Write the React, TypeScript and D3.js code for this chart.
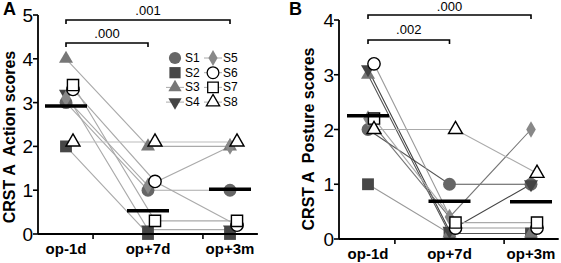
import React from "react";
import * as d3 from "d3";

// ---------- data ----------
const categories = ["op-1d", "op+7d", "op+3m"];
const seriesNames = ["S1", "S2", "S3", "S4", "S5", "S6", "S7", "S8"];

// Panel A: CRST A Action scores (per subject, op-1d / op+7d / op+3m)
const actionS1 = [3, 1, 1];
const actionS2 = [2, 0, 0];
const actionS3 = [4, 2, 2];
const actionS4 = [3.2, 0.1, 0.1];
const actionS5 = [3.1, 1.1, 2.0];
const actionS6 = [3.3, 1.2, 0.2];
const actionS7 = [3.4, 0.3, 0.3];
const actionS8 = [2.1, 2.1, 2.1];
const actionMeans = [2.92, 0.53, 1.02];
const actionTicks = [0, 1, 2, 3, 4, 5];
const actionBrackets = [
  { from: 0, to: 1, label: ".000" },
  { from: 0, to: 2, label: ".001" },
];

// Panel B: CRST A Posture scores
const postureS1 = [2, 1, 1];
const postureS2 = [1, 0.1, 0.1];
const postureS3 = [3, 0.1, 0.1];
const postureS4 = [3.1, 0.15, 1.0];
const postureS5 = [2.2, 0.4, 2.0];
const postureS6 = [3.2, 0.2, 0.2];
const postureS7 = [2.2, 0.3, 0.3];
const postureS8 = [2.0, 2.0, 1.2];
const postureMeans = [2.25, 0.69, 0.68];
const postureTicks = [0, 1, 2, 3, 4];
const postureBrackets = [
  { from: 0, to: 1, label: ".002" },
  { from: 0, to: 2, label: ".000" },
];

const actionSeries = [actionS1, actionS2, actionS3, actionS4, actionS5, actionS6, actionS7, actionS8];
const postureSeries = [postureS1, postureS2, postureS3, postureS4, postureS5, postureS6, postureS7, postureS8];

// ---------- styles ----------
const FONT = "'Liberation Sans', Arial, Helvetica, sans-serif";
type MarkerStyle = { type: any; rotate: number; size: number; fill: string; stroke: string; open: boolean };
const markerStyles: MarkerStyle[] = [
  { type: d3.symbolCircle, rotate: 0, size: 130, fill: "#666", stroke: "none", open: false },
  { type: d3.symbolSquare, rotate: 0, size: 140, fill: "#474747", stroke: "none", open: false },
  { type: d3.symbolTriangle, rotate: 0, size: 85, fill: "#777", stroke: "none", open: false },
  { type: d3.symbolTriangle, rotate: 180, size: 85, fill: "#444", stroke: "none", open: false },
  { type: d3.symbolDiamond, rotate: 0, size: 80, fill: "#888", stroke: "none", open: false },
  { type: d3.symbolCircle, rotate: 0, size: 120, fill: "#fff", stroke: "#000", open: true },
  { type: d3.symbolSquare, rotate: 0, size: 125, fill: "#fff", stroke: "#000", open: true },
  { type: d3.symbolTriangle, rotate: 0, size: 85, fill: "#fff", stroke: "#000", open: true },
];
const lineColorsA = ["#aaa", "#aaa", "#aaa", "#aaa", "#aaa", "#aaa", "#aaa", "#bbb"];
const lineColorsB = ["#555", "#999", "#555", "#444", "#777", "#999", "#aaa", "#aaa"];

type Layout = {
  axisX: number;
  catRange: [number, number];
  y0: number;
  yTopPx: number;
  yMax: number;
  bracketY: number[];
  bracketTextY: number[];
  letter: string;
  letterX: number;
  yLabel: string;
  yLabelX: number;
  yLabelY: number;
  openShift: number;
};

function Panel({ series, means, ticks, brackets, lineColors, L, legend }: any) {
  const lay: Layout = L;
  const x = d3.scaleLinear().domain([0, 2]).range(lay.catRange);
  const y = d3.scaleLinear().domain([0, lay.yMax]).range([lay.y0, lay.yTopPx]);
  const sym = (i: number) => d3.symbol().type(markerStyles[i].type).size(markerStyles[i].size)()!;
  const axisEnd = x(2.34);
  const halfBar = 21;
  return (
    <g>
      <text x={lay.letterX} y={15} fontFamily={FONT} fontWeight="bold" fontSize={18}>{lay.letter}</text>
      <text
        transform={`translate(${lay.yLabelX},${lay.yLabelY}) rotate(-90)`}
        textAnchor="middle"
        fontFamily={FONT}
        fontWeight="bold"
        fontSize={16}
        style={{ whiteSpace: "pre" }}
      >
        {lay.yLabel}
      </text>
      {/* brackets */}
      {brackets.map((b: any, i: number) => (
        <g key={"b" + i}>
          <path
            d={`M${x(b.from)},${lay.bracketY[i] + 4}V${lay.bracketY[i]}H${x(b.to)}V${lay.bracketY[i] + 4}`}
            fill="none"
            stroke="#000"
            strokeWidth={1.6}
          />
          <text x={(x(b.from) + x(b.to)) / 2} y={lay.bracketTextY[i]} textAnchor="middle" fontFamily={FONT} fontSize={13}>
            {b.label}
          </text>
        </g>
      ))}
      {/* connecting lines */}
      {series.map((s: number[], i: number) => (
        <path
          key={"l" + i}
          d={d3.line<number>().x((_, j) => x(j) + (markerStyles[i].open ? lay.openShift : 0)).y((v) => y(v))(s)!}
          fill="none"
          stroke={lineColors[i]}
          strokeWidth={1.1}
        />
      ))}
      {/* markers: filled first, open on top */}
      {[0, 1, 2, 3, 4, 5, 6, 7].map((i) =>
        series[i].map((v: number, j: number) => (
          <path
            key={`m${i}-${j}`}
            d={sym(i)}
            transform={`translate(${x(j) + (markerStyles[i].open ? lay.openShift : 0)},${y(v)}) rotate(${markerStyles[i].rotate})`}
            fill={markerStyles[i].fill}
            stroke={markerStyles[i].stroke}
            strokeWidth={1.4}
          />
        ))
      )}
      {/* mean bars */}
      {means.map((m: number, j: number) => (
        <line key={"mean" + j} x1={x(j) - halfBar} x2={x(j) + halfBar} y1={y(m)} y2={y(m)} stroke="#000" strokeWidth={3.5} />
      ))}
      {/* y axis */}
      <line x1={lay.axisX} x2={lay.axisX} y1={lay.y0} y2={y(lay.yMax)} stroke="#000" strokeWidth={1.8} />
      {ticks.map((t: number) => (
        <g key={"yt" + t}>
          <line x1={lay.axisX - 5} x2={lay.axisX} y1={y(t)} y2={y(t)} stroke="#000" strokeWidth={1.6} />
          <text x={lay.axisX - 5} y={y(t) + 7} textAnchor="end" fontFamily={FONT} fontSize={19}>
            {t}
          </text>
        </g>
      ))}
      {/* x axis */}
      <line x1={lay.axisX} x2={axisEnd} y1={lay.y0} y2={lay.y0} stroke="#000" strokeWidth={1.8} />
      {[0.33, 1.67].map((t) => (
        <line key={"xt" + t} x1={x(t)} x2={x(t)} y1={lay.y0} y2={lay.y0 + 5} stroke="#000" strokeWidth={1.6} />
      ))}
      {categories.map((c, j) => (
        <text key={c} x={x(j)} y={lay.y0 + 20} textAnchor="middle" fontFamily={FONT} fontWeight="bold" fontSize={15}>
          {c}
        </text>
      ))}
      {legend && (
        <g>
          {seriesNames.map((n, i) => {
            const col = Math.floor(i / 4);
            const row = i % 4;
            const mx = 175 + col * 38;
            const my = 58 + row * 14.7;
            return (
              <g key={"lg" + n}>
                {i >= 2 && <line x1={mx - 9} x2={mx + 9} y1={my} y2={my} stroke="#aaa" strokeWidth={1} />}
                <path
                  d={d3.symbol().type(markerStyles[i].type).size(markerStyles[i].size * 0.9)()!}
                  transform={`translate(${mx},${my}) rotate(${markerStyles[i].rotate})`}
                  fill={markerStyles[i].fill}
                  stroke={markerStyles[i].stroke}
                  strokeWidth={1.3}
                />
                <text x={mx + 10} y={my + 4} fontFamily={FONT} fontSize={12}>
                  {n}
                </text>
              </g>
            );
          })}
        </g>
      )}
    </g>
  );
}

const layoutA: Layout = {
  axisX: 38,
  catRange: [66, 230],
  y0: 234,
  yTopPx: 15,
  yMax: 5,
  bracketY: [43, 20],
  bracketTextY: [38, 15],
  letter: "A",
  letterX: 3,
  yLabel: "CRST A  Action scores",
  yLabelX: 15,
  yLabelY: 137,
  openShift: 7,
};
const layoutB: Layout = {
  axisX: 339,
  catRange: [368, 531],
  y0: 239,
  yTopPx: 20,
  yMax: 4,
  bracketY: [40, 15],
  bracketTextY: [34, 11],
  letter: "B",
  letterX: 289,
  yLabel: "CRST A  Posture scores",
  yLabelX: 314,
  yLabelY: 139,
  openShift: 6,
};

export default function App() {
  return (
    <svg width={561} height={263} style={{ position: "absolute", left: 0, top: 0, background: "#fff" }}>
      <rect width={561} height={263} fill="#fff" />
      <Panel series={actionSeries} means={actionMeans} ticks={actionTicks} brackets={actionBrackets} lineColors={lineColorsA} L={layoutA} legend />
      <Panel series={postureSeries} means={postureMeans} ticks={postureTicks} brackets={postureBrackets} lineColors={lineColorsB} L={layoutB} legend={false} />
    </svg>
  );
}
